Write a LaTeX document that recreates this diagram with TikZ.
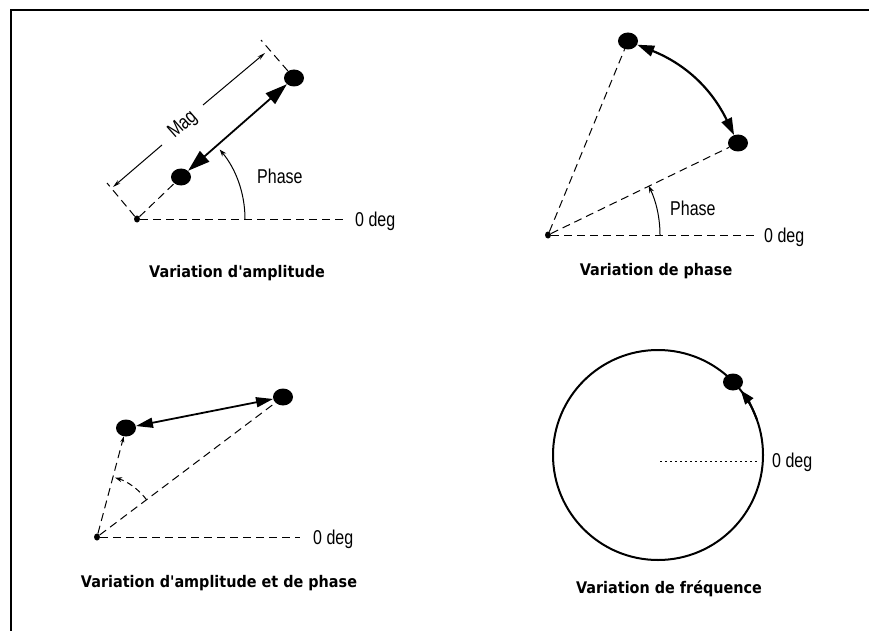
\documentclass[tikz,border=0pt]{standalone}
\usepackage{fontspec}
\usetikzlibrary{arrows.meta,shapes.geometric}
\newfontfamily\labfont{Liberation Sans}[FakeStretch=0.8]
\newfontfamily\titfont{DejaVu Sans Bold}[FakeStretch=0.9]
\begin{document}
\begin{tikzpicture}[x=1pt,y=-1pt,
  bigdot/.style={ellipse,fill=black,inner sep=0pt,minimum width=20pt,minimum height=17pt},
  smalldot/.style={ellipse,fill=black,inner sep=0pt,minimum width=6pt,minimum height=7pt},
  dashline/.style={dash pattern=on 8pt off 5pt,line width=1pt},
  dotline/.style={dash pattern=on 1.5pt off 3.5pt,line width=1pt},
  lab/.style={font=\labfont\fontsize{20}{24}\selectfont,inner sep=0pt},
  ttl/.style={font=\titfont\fontsize{16}{19}\selectfont,inner sep=0pt},
  bigarr/.style={line width=1.8pt,{Triangle[length=22pt,width=14pt]}-{Triangle[length=22pt,width=14pt]}},
  midarr/.style={line width=1.8pt,{Triangle[length=17pt,width=10pt]}-{Triangle[length=17pt,width=10pt]}},
  arcarr/.style={line width=2.2pt,{Triangle[length=17pt,width=11pt]}-{Triangle[length=17pt,width=11pt]}},
  thinarr/.style={line width=1pt,-{Stealth[length=7pt,width=5pt]}},
  magarr/.style={line width=1pt,-{Stealth[length=8pt,width=4pt]}}
]
\useasboundingbox (0,0) rectangle (869,631);
% frame
\coordinate (fa) at (11,631);
\coordinate (fb) at (11,10);
\coordinate (fc) at (869,10);
\draw[line width=2pt] (fa) -- (fb) -- (fc);

% ---------- panel 1 : amplitude
\node[smalldot] (o1) at (137,219) {};
\node[bigdot] (a1) at (181,177) {};
\node[bigdot] (b1) at (294,78) {};
\coordinate (z1) at (345,219);
\draw[dashline] (o1) -- (z1);
\draw[dashline] (o1) -- (a1);
\draw[bigarr] (a1) -- (b1);
\coordinate (e1) at (107,183);
\coordinate (e2) at (261,40);
\draw[dashline] (o1) -- (e1);
\draw[dashline] (b1) -- (e2);
\coordinate (m1) at (113,187);
\coordinate (m2) at (265,53);
\coordinate (g1) at (162,145);
\coordinate (g2) at (203,105);
\draw[magarr] (g1) -- (m1);
\draw[magarr] (g2) -- (m2);
\node[lab,rotate=41.4] (mag) at (183,125) {Mag};
\coordinate (p1) at (245,219);
\draw[thinarr] (p1) arc (0:-40:108);
\node[lab,anchor=base west] (ph1) at (257,183) {Phase};
\node[lab,anchor=base west] (zd1) at (355,226) {0 deg};
\node[ttl,anchor=base] (t1) at (237,277) {Variation d'amplitude};

% ---------- panel 2 : phase
\node[smalldot] (o2) at (548,235) {};
\node[bigdot] (t2) at (628,41) {};
\node[bigdot] (r2) at (738,143) {};
\coordinate (z2) at (758,235);
\draw[dashline] (o2) -- (z2);
\draw[dashline] (o2) -- (t2);
\draw[dashline] (o2) -- (r2);
\draw[arcarr] (t2) to[bend left=21] (r2);
\coordinate (p2) at (660,235);
\draw[thinarr] (p2) arc (0:-26:112);
\node[lab,anchor=base west] (ph2) at (670,215) {Phase};
\node[lab,anchor=base west] (zd2) at (764,242) {0 deg};
\node[ttl,anchor=base] (tt2) at (656,275) {Variation de phase};

% ---------- panel 3 : amplitude + phase
\node[smalldot] (o3) at (97,537) {};
\node[bigdot] (l3) at (126,428) {};
\node[bigdot] (r3) at (283,397) {};
\coordinate (z3) at (300,537);
\draw[dashline] (o3) -- (z3);
\draw[dashline,-{Stealth[length=6pt,width=4pt]}] (o3) -- (l3);
\draw[dashline] (o3) -- (r3);
\draw[midarr] (l3) -- (r3);
\draw[dash pattern=on 6pt off 4pt,line width=1pt,-{Stealth[length=7pt,width=5pt]}] (o3) ++(-37:62) arc (-37:-73:62);
\node[lab,anchor=base west] (zd3) at (313,544) {0 deg};
\node[ttl,anchor=base] (tt3) at (219,587) {Variation d'amplitude et de phase};

% ---------- panel 4 : frequency
\coordinate (c4) at (658,455);
\draw[line width=2pt] (c4) circle (105);
\node[bigdot] (d4) at (733,382) {};
\draw[line width=2pt,-{Triangle[length=14pt,width=10pt]}] (c4) ++(-20:105) arc (-20:-38:105);
\coordinate (q1) at (660,461);
\coordinate (q2) at (760,461);
\draw[dotline] (q1) -- (q2);
\node[lab,anchor=base west] (zd4) at (772,467) {0 deg};
\node[ttl,anchor=base] (tt4) at (669,593) {Variation de fréquence};
\end{tikzpicture}
\end{document}
